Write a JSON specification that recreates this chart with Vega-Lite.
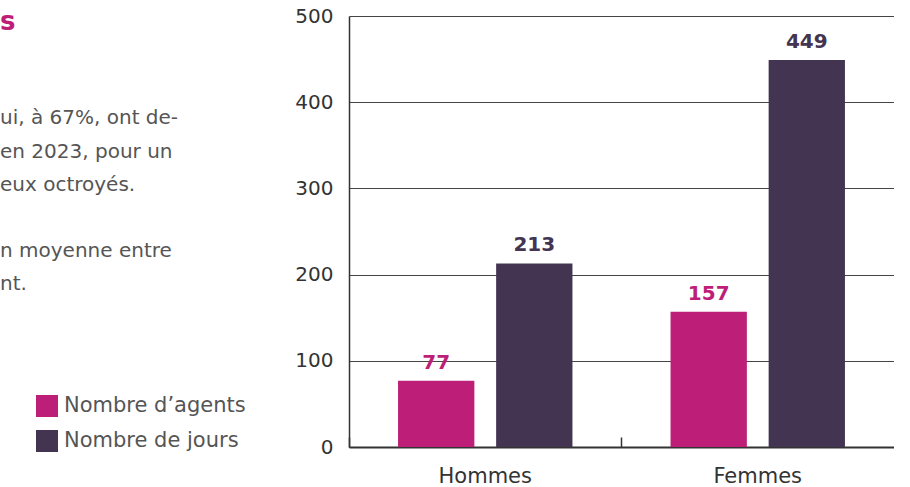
{
  "$schema": "https://vega.github.io/schema/vega-lite/v6.json",
  "padding": {"left": 0, "top": 6, "right": 0, "bottom": 0},
  "background": "white",
  "config": {"font": "DejaVu Sans", "view": {"stroke": null}, "concat": {"spacing": 94}},
  "datasets": {
    "texte": [
      {"ligne": 0, "texte": "s", "role": "titre"},
      {"ligne": 3, "texte": "ui, à 67%, ont de-", "role": "corps"},
      {"ligne": 4, "texte": "en 2023, pour un", "role": "corps"},
      {"ligne": 5, "texte": "eux octroyés.", "role": "corps"},
      {"ligne": 7, "texte": "n moyenne entre", "role": "corps"},
      {"ligne": 8, "texte": "nt.", "role": "corps"}
    ],
    "conges": [
      {"genre": "Hommes", "serie": "Nombre d’agents", "valeur": 77},
      {"genre": "Hommes", "serie": "Nombre de jours", "valeur": 213},
      {"genre": "Femmes", "serie": "Nombre d’agents", "valeur": 157},
      {"genre": "Femmes", "serie": "Nombre de jours", "valeur": 449}
    ]
  },
  "hconcat": [
    {
      "width": 200,
      "height": 431,
      "data": {"name": "texte"},
      "encoding": {
        "y": {"field": "ligne", "type": "quantitative", "scale": {"domain": [0, 13], "reverse": true}, "axis": null},
        "text": {"field": "texte"}
      },
      "layer": [
        {
          "transform": [{"filter": "datum.role === 'titre'"}],
          "mark": {"type": "text", "align": "left", "baseline": "middle", "x": 0, "dy": 6, "fontSize": 26, "fontWeight": "bold", "color": "#BD1E77"}
        },
        {
          "transform": [{"filter": "datum.role === 'corps'"}],
          "mark": {"type": "text", "align": "left", "baseline": "middle", "x": 0, "dy": 3, "fontSize": 20, "color": "#555555"}
        }
      ]
    },
    {
      "width": 545,
      "height": 431,
      "data": {"name": "conges"},
      "encoding": {
        "x": {
          "field": "genre", "type": "nominal", "sort": ["Hommes", "Femmes"],
          "scale": {"paddingInner": 0.36, "paddingOuter": 0.18},
          "axis": {"title": null, "labelAngle": 0, "labelFontSize": 21, "labelColor": "#333333", "labelPadding": 28,
                   "domainColor": "#333333", "domainWidth": 2, "ticks": true, "tickColor": "#333333", "tickSize": -10,
                   "tickWidth": 1.5, "bandPosition": -0.281, "grid": false}
        },
        "xOffset": {
          "field": "serie", "type": "nominal", "sort": ["Nombre d’agents", "Nombre de jours"],
          "scale": {"paddingInner": 0.222, "paddingOuter": 0}
        },
        "y": {
          "field": "valeur", "type": "quantitative", "scale": {"domain": [0, 500]},
          "axis": {"title": null, "values": [0, 100, 200, 300, 400, 500], "labelFontSize": 20, "labelColor": "#333333",
                   "labelPadding": 16, "ticks": false, "domainColor": "#333333", "domainWidth": 1.5,
                   "gridColor": "#444444", "gridWidth": 1}
        },
        "color": {
          "field": "serie", "type": "nominal",
          "scale": {"domain": ["Nombre d’agents", "Nombre de jours"], "range": ["#BD1E77", "#433552"]},
          "legend": {"title": null, "orient": "none", "legendX": 36, "legendY": 379, "symbolType": "square",
                     "symbolSize": 484, "symbolStrokeWidth": 0, "symbolOpacity": 1, "labelFontSize": 21, "labelColor": "#555555",
                     "labelOffset": 6, "labelLimit": 0, "rowPadding": 13, "padding": 0}
        }
      },
      "layer": [
        {"mark": {"type": "bar"}},
        {"mark": {"type": "text", "baseline": "bottom", "dy": -8, "fontSize": 20, "fontWeight": "bold"},
         "encoding": {"text": {"field": "valeur", "type": "quantitative"}}}
      ]
    }
  ]
}
